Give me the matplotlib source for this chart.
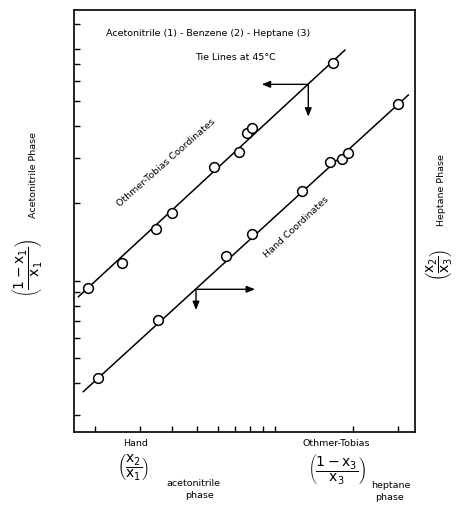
import matplotlib
matplotlib.use("Agg")
import matplotlib.pyplot as plt
from matplotlib.ticker import FixedLocator, NullFormatter, NullLocator

FONT = ['Liberation Sans Narrow', 'DejaVu Sans']
plt.rcParams['font.family'] = FONT
plt.rcParams['mathtext.fontset'] = 'custom'
plt.rcParams['mathtext.rm'] = 'Liberation Sans Narrow'
plt.rcParams['mathtext.it'] = 'Liberation Sans Narrow'

# Othmer-Tobias coordinates data
ot_x = [0.188, 0.255, 0.345, 0.398, 0.582, 0.725, 0.777, 0.812, 1.683]
ot_y = [0.939, 1.169, 1.585, 1.839, 2.777, 3.177, 3.746, 3.938, 7.05]
ot_line_x = [0.173, 1.867]
ot_line_y = [0.866, 7.90]

# Hand coordinates data
hand_x = [0.2055, 0.353, 0.644, 0.812, 1.276, 1.634, 1.813, 1.923, 2.99]
hand_y = [0.417, 0.703, 1.248, 1.516, 2.239, 2.904, 2.968, 3.131, 4.858]
hand_line_x = [0.1807, 3.286]
hand_line_y = [0.370, 5.28]

x_ticks = [0.2, 0.3, 0.4, 0.5, 0.6, 0.7, 0.8, 0.9, 1.0, 2.0, 3.0]
y_ticks = [0.3, 0.4, 0.5, 0.6, 0.7, 0.8, 0.9, 1.0, 2.0, 3.0, 4.0, 5.0, 6.0, 7.0, 8.0, 10.0]

fig = plt.figure(figsize=(4.61, 5.05), dpi=100)
ax = fig.add_axes([0.1605, 0.1446, 0.7397, 0.8356])
ax.set_xscale('log')
ax.set_yscale('log')
ax.set_xlim(0.1663, 3.488)
ax.set_ylim(0.2578, 11.31)

ax.xaxis.set_major_locator(FixedLocator(x_ticks))
ax.xaxis.set_minor_locator(NullLocator())
ax.yaxis.set_major_locator(FixedLocator(y_ticks))
ax.yaxis.set_minor_locator(NullLocator())
ax.xaxis.set_major_formatter(NullFormatter())
ax.yaxis.set_major_formatter(NullFormatter())
ax.tick_params(axis='both', direction='in', length=4, width=1.0, color='black',
               top=False, right=False)
for s in ax.spines.values():
    s.set_linewidth(1.2)
    s.set_color('black')

ax.plot(ot_line_x, ot_line_y, color='black', lw=1.1)
ax.plot(hand_line_x, hand_line_y, color='black', lw=1.1)
ax.plot(ot_x, ot_y, 'o', ms=7, mfc='white', mec='black', mew=1.1)
ax.plot(hand_x, hand_y, 'o', ms=7, mfc='white', mec='black', mew=1.1)

arrow = dict(arrowstyle='-|>,head_length=0.5,head_width=0.2', color='black', lw=1.0,
             shrinkA=0, shrinkB=0)
# Othmer-Tobias arrows (left and down)
ax.annotate('', xy=(0.888, 5.81), xytext=(1.346, 5.81), arrowprops=arrow)
ax.annotate('', xy=(1.346, 4.35), xytext=(1.346, 5.81), arrowprops=arrow)
# Hand arrows (right and down)
ax.annotate('', xy=(0.837, 0.926), xytext=(0.494, 0.926), arrowprops=arrow)
ax.annotate('', xy=(0.494, 0.769), xytext=(0.494, 0.926), arrowprops=arrow)

def px(x, y, s, **kw):
    fig.text(x / 461, 1 - y / 505, s, **kw)

fs = 6.8
mfs = 10
px(208, 33, 'Acetonitrile (1) - Benzene (2) - Heptane (3)', ha='center', va='center', fontsize=fs)
px(235, 58, 'Tie Lines at 45°C', ha='center', va='center', fontsize=fs)
px(166, 162.5, 'Othmer-Tobias Coordinates', ha='center', va='center', fontsize=fs,
   rotation=41.5, rotation_mode='anchor')
px(296.7, 226.7, 'Hand Coordinates', ha='center', va='center', fontsize=fs,
   rotation=43, rotation_mode='anchor')

# Left label
px(33, 175, 'Acetonitrile Phase', ha='center', va='center', fontsize=fs, rotation=90)
px(27, 268, r'$\left(\dfrac{1 - x_1}{x_1}\right)$', ha='center', va='center',
   fontsize=mfs, rotation=90)
# Right label
px(441, 190, 'Heptane Phase', ha='center', va='center', fontsize=fs, rotation=90)
px(439, 265, r'$\left(\dfrac{x_2}{x_3}\right)$', ha='center', va='center',
   fontsize=mfs, rotation=90)

# Bottom labels
px(136, 443, 'Hand', ha='center', va='center', fontsize=fs)
px(133, 467, r'$\left(\dfrac{x_2}{x_1}\right)$', ha='center', va='center', fontsize=mfs)
px(193, 484, 'acetonitrile', ha='center', va='center', fontsize=fs)
px(199, 496, 'phase', ha='center', va='center', fontsize=fs)

px(336, 443, 'Othmer-Tobias', ha='center', va='center', fontsize=fs)
px(337, 469, r'$\left(\dfrac{1 - x_3}{x_3}\right)$', ha='center', va='center', fontsize=mfs)
px(391, 486, 'heptane', ha='center', va='center', fontsize=fs)
px(389, 497, 'phase', ha='center', va='center', fontsize=fs)

fig.savefig('out.png', dpi=100)
